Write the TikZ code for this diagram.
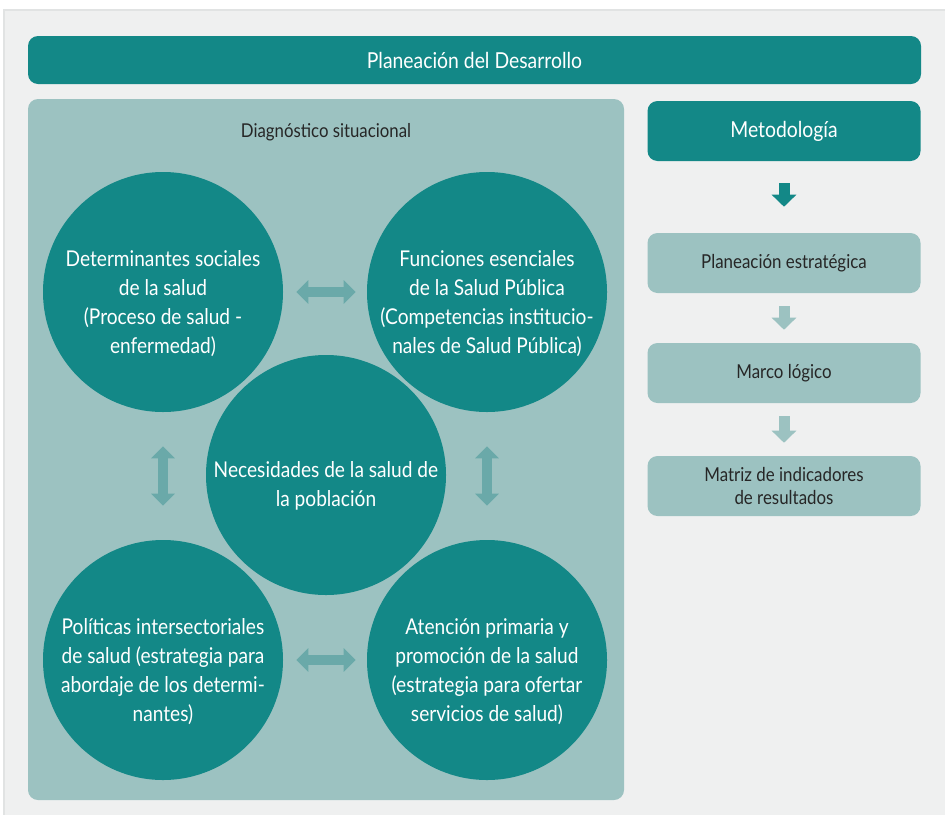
\documentclass[tikz,border=0pt]{standalone}
\usepackage{fontspec}
\setmainfont[FakeStretch=0.88]{Lato}
\usepackage{xcolor}
\usetikzlibrary{arrows.meta}

\definecolor{tealdark}{HTML}{138887}
\definecolor{teallight}{HTML}{9CC2C1}
\definecolor{tealarrow}{HTML}{6AA9A9}
\definecolor{bggray}{HTML}{EFF0F0}
\definecolor{bgline}{HTML}{E1E3E3}
\definecolor{textdark}{HTML}{262626}

\begin{document}
\begin{tikzpicture}[x=0.75pt, y=-0.75pt,
	circ/.style={circle, fill=tealdark, minimum size=180pt, inner sep=0pt},
	circtext/.style={text=white, align=center, yshift=-8.5pt, font=\fontsize{16.3}{21.75}\selectfont},
	darkbox/.style={rounded corners=7.5pt, fill=tealdark, text=white, minimum width=204.75pt, minimum height=45pt, align=center, font=\fontsize{16.5}{20}\selectfont},
	lightbox/.style={rounded corners=7.5pt, fill=teallight, text=textdark, minimum width=204.75pt, minimum height=45pt, align=center, font=\fontsize{14.4}{17.25}\selectfont},
	dblarrow/.style={draw=tealarrow, line width=7.5pt, {Triangle[width=17.25pt, length=9pt]}-{Triangle[width=17.25pt, length=9pt]}},
	downarrow/.style={draw=#1, line width=8.25pt, -{Triangle[width=18pt, length=9pt]}}
]

\useasboundingbox (0,0) rectangle (945,814);
\fill[white] (0,0) rectangle (945,814);
\filldraw[fill=bggray, draw=bgline, line width=1pt] (4,10) rectangle (950,820);

% top bar
\node[darkbox, minimum width=669.75pt, minimum height=36pt] (desarrollo) at (474.5,60) {Planeación del Desarrollo};

% left panel
\fill[teallight, rounded corners=7.5pt] (28,99) rectangle (624,800);
\node[text=textdark, font=\fontsize{14.3}{17}\selectfont] (diag) at (326,132) {Diagnóstico situacional};

\node[circ] (dsal) at (163,292) {};
\node[circ] (fesp) at (487,292) {};
\node[circ] (pint) at (163,660) {};
\node[circ] (aten) at (487,660) {};
\node[circ] (nece) at (326,475) {};

\node[circtext] (dsal-t) at (dsal) {Determinantes sociales\\de la salud\\(Proceso de salud -\\enfermedad)};
\node[circtext] (fesp-t) at (fesp) {Funciones esenciales\\de la Salud Pública\\(Competencias institucio-\\nales de Salud Pública)};
\node[circtext] (pint-t) at (pint) {Políticas intersectoriales\\de salud (estrategia para\\abordaje de los determi-\\nantes)};
\node[circtext] (aten-t) at (aten) {Atención primaria y\\promoción de la salud\\(estrategia para ofertar\\servicios de salud)};
\node[circtext] (nece-t) at (nece) {Necesidades de la salud de\\la población};

\draw[dblarrow, shorten <=9.75pt, shorten >=8.25pt] (dsal) -- (fesp);
\draw[dblarrow, shorten <=9.75pt, shorten >=8.25pt] (pint) -- (aten);
\draw[dblarrow, shorten <=25.5pt, shorten >=25.5pt] (dsal) -- (pint);
\draw[dblarrow, shorten <=25.5pt, shorten >=25.5pt] (fesp) -- (aten);

% right column
\node[darkbox] (meto) at (784,131) {Metodología};
\node[lightbox] (pest) at (784,263) {Planeación estratégica};
\node[lightbox] (mlog) at (784,373) {Marco lógico};
\node[lightbox] (matr) at (784,486) {Matriz de indicadores\\de resultados};

\draw[downarrow=tealdark, shorten <=16.5pt, shorten >=19.5pt] (meto) -- (pest);
\foreach \a/\b in {pest/mlog, mlog/matr}{
	\draw[downarrow=teallight, shorten <=9.75pt, shorten >=9.75pt] (\a) -- (\b);
}

\end{tikzpicture}
\end{document}
